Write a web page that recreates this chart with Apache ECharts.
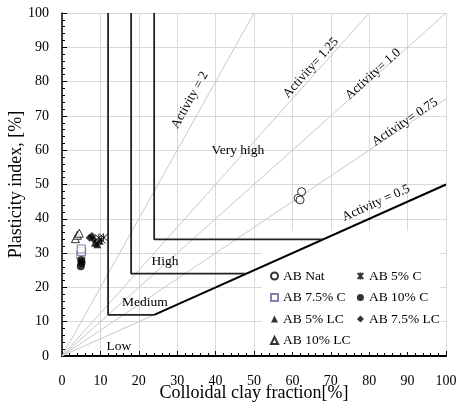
<!DOCTYPE html>
<html><head><meta charset="utf-8">
<script src="https://cdn.jsdelivr.net/npm/echarts@6.0.0/dist/echarts.min.js"></script>
<style>html,body{margin:0;padding:0;background:#fff}#c{width:458px;height:405px}</style>
</head><body><div id="c"></div>
<script>
// ---- data ----
const xTickValues = [0,10,20,30,40,50,60,70,80,90,100];
const yTickValues = [0,10,20,30,40,50,60,70,80,90,100];
const activityValues = [2, 1.25, 1.0, 0.75, 0.5];
const activityLabels = ['Activity = 2', 'Activity= 1.25', 'Activity= 1.0', 'Activity= 0.75', 'Activity = 0.5'];
const activityLabelClay = [33.3, 64.8, 81.0, 89.3, 81.8];
const activityLabelPI = [74.6, 84.0, 82.2, 68.2, 44.6];
// swelling boundaries: vertical clay limit and horizontal PI limit
const boundaryClay = [12, 18, 24];
const boundaryPI = [12, 24, 34];
const boundaryActivity = 0.5;
const regionNames = ['Low', 'Medium', 'High', 'Very high'];
const regionClay = [14.8, 21.6, 26.8, 45.8];
const regionPI = [2.9, 15.5, 27.7, 59.8];

const seriesNames = ['AB Nat', 'AB 5% C', 'AB 7.5% C', 'AB 10% C', 'AB 5% LC', 'AB 7.5% LC', 'AB 10% LC'];
const abNatClay = [61.5, 62.0, 62.4];
const abNatPI = [46.0, 45.5, 47.9];
const ab5CClay = [9.6, 10.3, 10.8];
const ab5CPI = [34.5, 33.8, 34.6];
const ab75CClay = [4.9, 5.1, 5.0];
const ab75CPI = [29.5, 30.5, 31.2];
const ab10CClay = [4.9, 5.1, 5.0];
const ab10CPI = [26.2, 27.2, 28.0];
const ab5LCClay = [8.6, 9.2, 9.8];
const ab5LCPI = [33.0, 32.6, 33.6];
const ab75LCClay = [7.2, 7.8, 8.3];
const ab75LCPI = [34.5, 35.0, 33.9];
const ab10LCClay = [3.5, 4.0, 4.5];
const ab10LCPI = [34.2, 35.2, 35.8];

// ---- build ----
const zip = (a, b) => a.map((v, i) => [v, b[i]]);
const FONT = '"Liberation Serif", "Times New Roman", serif';
const asterisk = 'path://M0,0L10,10M10,0L0,10M5,-1L5,11';

const series = [];
activityValues.forEach((a, i) => {
  const xEnd = Math.min(100, 100 / a);
  series.push({
    type: 'line', silent: true, symbol: 'none', z: 1,
    lineStyle: {color: '#c8c8c8', width: 1},
    data: [[0, 0], [xEnd, xEnd * a]]
  });
});
series.push({
  type: 'line', silent: true, symbol: 'none', z: 3,
  lineStyle: {color: '#000', width: 2},
  data: [[boundaryPI[0] / boundaryActivity, boundaryPI[0]], [100, 100 * boundaryActivity]]
});
boundaryClay.forEach((c, i) => {
  const p = boundaryPI[i];
  series.push({
    type: 'line', silent: true, symbol: 'none', z: 3,
    lineStyle: {color: '#222', width: 1.8},
    data: [[c, 100], [c, p], [p / boundaryActivity, p]]
  });
});

const markerStyles = [
  {symbol: 'circle', itemStyle: {color: '#fff', borderColor: '#000', borderWidth: 1}},
  {symbol: asterisk, itemStyle: {color: 'none', borderColor: '#000', borderWidth: 1}},
  {symbol: 'rect', itemStyle: {color: '#fff', borderColor: '#6a5a9e', borderWidth: 1}},
  {symbol: 'circle', itemStyle: {color: '#000', borderColor: '#000', borderWidth: 0}},
  {symbol: 'triangle', itemStyle: {color: '#000', borderColor: '#000', borderWidth: 0}},
  {symbol: 'diamond', itemStyle: {color: '#000', borderColor: '#000', borderWidth: 0}},
  {symbol: 'triangle', itemStyle: {color: '#fff', borderColor: '#000', borderWidth: 1}}
];
const pointSets = [
  zip(abNatClay, abNatPI), zip(ab5CClay, ab5CPI), zip(ab75CClay, ab75CPI), zip(ab10CClay, ab10CPI),
  zip(ab5LCClay, ab5LCPI), zip(ab75LCClay, ab75LCPI), zip(ab10LCClay, ab10LCPI)
];
seriesNames.forEach((n, i) => {
  series.push(Object.assign({
    type: 'scatter', name: n, z: 5, symbolSize: 8, data: pointSets[i]
  }, markerStyles[i]));
});

const axisCommon = {
  type: 'value', min: 0, max: 100, interval: 10,
  axisLine: {show: true, onZero: false, lineStyle: {color: '#000', width: 1.5}},
  axisTick: {show: true, inside: true, length: 5, lineStyle: {color: '#000', width: 1}},
  minorTick: {show: true, splitNumber: 5, length: 3, lineStyle: {color: '#000', width: 1}},
  splitLine: {show: true, lineStyle: {color: '#d9d9d9', width: 1}},
  axisLabel: {color: '#000', fontFamily: FONT, fontSize: 14},
  nameLocation: 'middle',
  nameMoveOverlap: false,
  nameTextStyle: {color: '#000', fontFamily: FONT, fontSize: 18}
};

const legendCommon = {
  orient: 'vertical', itemWidth: 7, itemHeight: 7, itemGap: 7.5, padding: 0,
  textStyle: {color: '#000', fontFamily: FONT, fontSize: 13.5, lineHeight: 14},
  selectedMode: false
};

const chart = echarts.init(document.getElementById('c'), null, {renderer: 'canvas'});
chart.setOption({
  animation: false,
  backgroundColor: '#fff',
  grid: {left: 62, right: 12, top: 13, bottom: 49, containLabel: false, outerBoundsMode: 'none'},
  xAxis: Object.assign({}, axisCommon, {
    name: 'Colloidal clay fraction[%]', nameGap: 28,
    axisLine: {show: true, onZero: false, lineStyle: {color: '#000', width: 2}},
    axisLabel: Object.assign({}, axisCommon.axisLabel, {margin: 18, formatter: v => xTickValues.includes(v) ? String(v) : ''})
  }),
  yAxis: Object.assign({}, axisCommon, {
    name: 'Plasticity index, [%]', nameGap: 37,
    axisLabel: Object.assign({}, axisCommon.axisLabel, {margin: 13, formatter: v => yTickValues.includes(v) ? String(v) : ''})
  }),
  legend: [
    Object.assign({}, legendCommon, {left: 270, top: 269, data: [seriesNames[0], seriesNames[2], seriesNames[4], seriesNames[6]]}),
    Object.assign({}, legendCommon, {left: 355, top: 269, data: [seriesNames[1], seriesNames[3], seriesNames[5]]})
  ],
  series: series
});

const px = (x, y) => chart.convertToPixel({gridIndex: 0}, [x, y]);
const graphics = [];
const lb0 = px(52, 36.5), lb1 = px(98.5, 1.2);
graphics.push({type: 'rect', z: 1, silent: true,
  shape: {x: lb0[0], y: lb0[1], width: lb1[0] - lb0[0], height: lb1[1] - lb0[1]},
  style: {fill: '#fff'}});
activityValues.forEach((a, i) => {
  const p0 = px(0, 0), p1 = px(10, 10 * a);
  const ang = Math.atan2(p0[1] - p1[1], p1[0] - p0[0]);
  const c = px(activityLabelClay[i], activityLabelPI[i]);
  graphics.push({type: 'text', x: c[0], y: c[1], rotation: ang, z: 6, silent: true,
    style: {text: activityLabels[i], fill: '#000', font: '13px ' + FONT, align: 'center', verticalAlign: 'middle'}});
});
regionNames.forEach((n, i) => {
  const c = px(regionClay[i], regionPI[i]);
  graphics.push({type: 'text', x: c[0], y: c[1], z: 6, silent: true,
    style: {text: n, fill: '#000', font: '13.5px ' + FONT, align: 'center', verticalAlign: 'middle'}});
});
chart.setOption({graphic: graphics});
</script>
</body></html>
